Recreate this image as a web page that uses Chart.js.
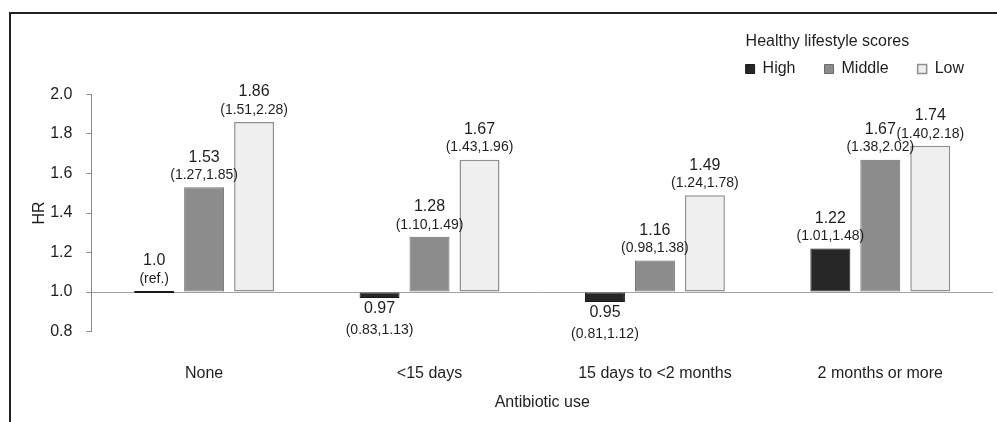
<!DOCTYPE html>
<html>
<head>
<meta charset="utf-8">
<script src="https://cdn.jsdelivr.net/npm/chart.js@4.4.1/dist/chart.umd.min.js"></script>
<style>
  html, body { margin: 0; padding: 0; background: #fff; }
  #wrap { position: relative; width: 997px; height: 422px; }
  #frame { position: absolute; left: 9px; top: 12px; right: 0; bottom: 0; border-top: 2px solid #222; border-left: 2px solid #222; pointer-events: none; }
</style>
</head>
<body>
<div id="wrap">
  <canvas id="hrChart"></canvas>
  <div id="frame"></div>
</div>
<script>
const categories = ["None", "<15 days", "15 days to <2 months", "2 months or more"];
const highHR = [1.0, 0.97, 0.95, 1.22];
const middleHR = [1.53, 1.28, 1.16, 1.67];
const lowHR = [1.86, 1.67, 1.49, 1.74];
const highCI = ["ref.", "0.83,1.13", "0.81,1.12", "1.01,1.48"];
const middleCI = ["1.27,1.85", "1.10,1.49", "0.98,1.38", "1.38,2.02"];
const lowCI = ["1.51,2.28", "1.43,1.96", "1.24,1.78", "1.40,2.18"];
const ciSets = [highCI, middleCI, lowCI];

const FONT = "'Liberation Sans', Arial, sans-serif";
const TEXT = "#1e1e1e";
Chart.defaults.font.family = FONT;
Chart.defaults.color = TEXT;

// value + CI labels above (or below) each bar
const hrLabels = {
  id: "hrLabels",
  afterDatasetsDraw(chart) {
    const ctx = chart.ctx;
    ctx.save();
    ctx.fillStyle = TEXT;
    ctx.textAlign = "center";
    ctx.textBaseline = "middle";
    chart.data.datasets.forEach((ds, i) => {
      chart.getDatasetMeta(i).data.forEach((bar, j) => {
        const v = ds.data[j];
        const ci = ciSets[i][j];
        const txt = ci === "ref." ? v.toFixed(1) : v.toFixed(2);
        if (v >= 1) {
          const top = Math.min(bar.y, bar.base);
          ctx.font = "16px " + FONT;
          ctx.fillText(txt, bar.x, top - 30);
          ctx.font = "14px " + FONT;
          ctx.fillText("(" + ci + ")", bar.x, top - 12);
        } else {
          const bottom = Math.max(bar.y, bar.base);
          ctx.font = "16px " + FONT;
          ctx.fillText(txt, bar.x, bottom + 11);
          ctx.font = "14px " + FONT;
          ctx.fillText("(" + ci + ")", bar.x, bottom + 32);
        }
      });
    });
    ctx.restore();
  },
};

new Chart(document.getElementById("hrChart"), {
  type: "bar",
  data: {
    labels: categories,
    datasets: [
      {
        label: "High",
        data: highHR,
        base: 1,
        minBarLength: 2,
        backgroundColor: "#262626",
        borderColor: "#1a1a1a",
        borderWidth: 1,
      },
      {
        label: "Middle",
        data: middleHR,
        base: 1,
        backgroundColor: "#8c8c8c",
        borderColor: "#6b6b6b",
        borderWidth: 1,
      },
      {
        label: "Low",
        data: lowHR,
        base: 1,
        backgroundColor: "#efefef",
        borderColor: "#8f8f8f",
        borderWidth: 1.5,
      },
    ],
  },
  options: {
    responsive: true,
    maintainAspectRatio: false,
    animation: false,
    layout: { padding: { top: 12, left: 20, right: 4, bottom: 10 } },
    datasets: {
      bar: { categoryPercentage: 0.665, barPercentage: 0.8, borderSkipped: false },
    },
    scales: {
      x: {
        grid: { display: false, drawTicks: false },
        border: { display: false },
        ticks: { padding: 32, font: { size: 16 }, maxRotation: 0, autoSkip: false },
        title: {
          display: true,
          text: "Antibiotic use",
          font: { size: 16 },
          padding: { top: -22, bottom: 0 },
        },
      },
      y: {
        min: 0.8,
        max: 2.0,
        ticks: {
          stepSize: 0.2,
          padding: 14,
          font: { size: 16 },
          callback: function (value) {
            return value.toFixed(1);
          },
        },
        grid: {
          color: function (ctx) {
            return ctx.tick && Math.abs(ctx.tick.value - 1) < 1e-6 ? "#a3a3a3" : "rgba(0,0,0,0)";
          },
          tickColor: "#8a8a8a",
          tickLength: 5,
        },
        border: { display: true, color: "#8a8a8a", width: 1 },
        title: {
          display: true,
          text: "HR",
          font: { size: 16 },
          padding: { top: 10.4, bottom: -13.4 },
        },
      },
    },
    plugins: {
      legend: {
        position: "top",
        align: "end",
        title: {
          display: true,
          text: "Healthy lifestyle scores",
          position: "start",
          color: TEXT,
          font: { size: 16 },
          padding: { top: 22, bottom: -21.2 },
        },
        labels: { boxWidth: 9, boxHeight: 9, padding: 29, font: { size: 16 }, color: TEXT },
      },
      // empty spacer between legend and plot
      subtitle: {
        display: true,
        text: "",
        position: "top",
        weight: 500,
        font: { size: 2 },
        padding: { top: 0, bottom: 5 },
      },
      tooltip: { enabled: false },
    },
  },
  plugins: [hrLabels],
});
</script>
</body>
</html>
